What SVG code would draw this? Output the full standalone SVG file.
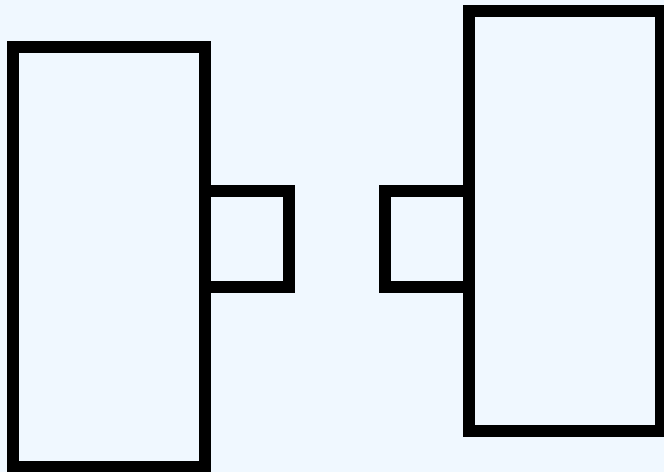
<svg xmlns="http://www.w3.org/2000/svg" width="664" height="472" viewBox="0 0 664 472">
<style>
.b{fill:#F0F8FF;stroke:#000;stroke-width:12}
</style>
<rect x="0" y="0" width="664" height="472" fill="#F0F8FF"/>
<g id="left-small"><rect class="b" x="205" y="191" width="84" height="96"/></g>
<g id="right-small"><rect class="b" x="385" y="191" width="84" height="96"/></g>
<g id="left-big"><rect class="b" x="13" y="47" width="192" height="420"/></g>
<g id="right-big"><rect class="b" x="469" y="11" width="192" height="420"/></g>
<g id="connectors"></g>
</svg>
